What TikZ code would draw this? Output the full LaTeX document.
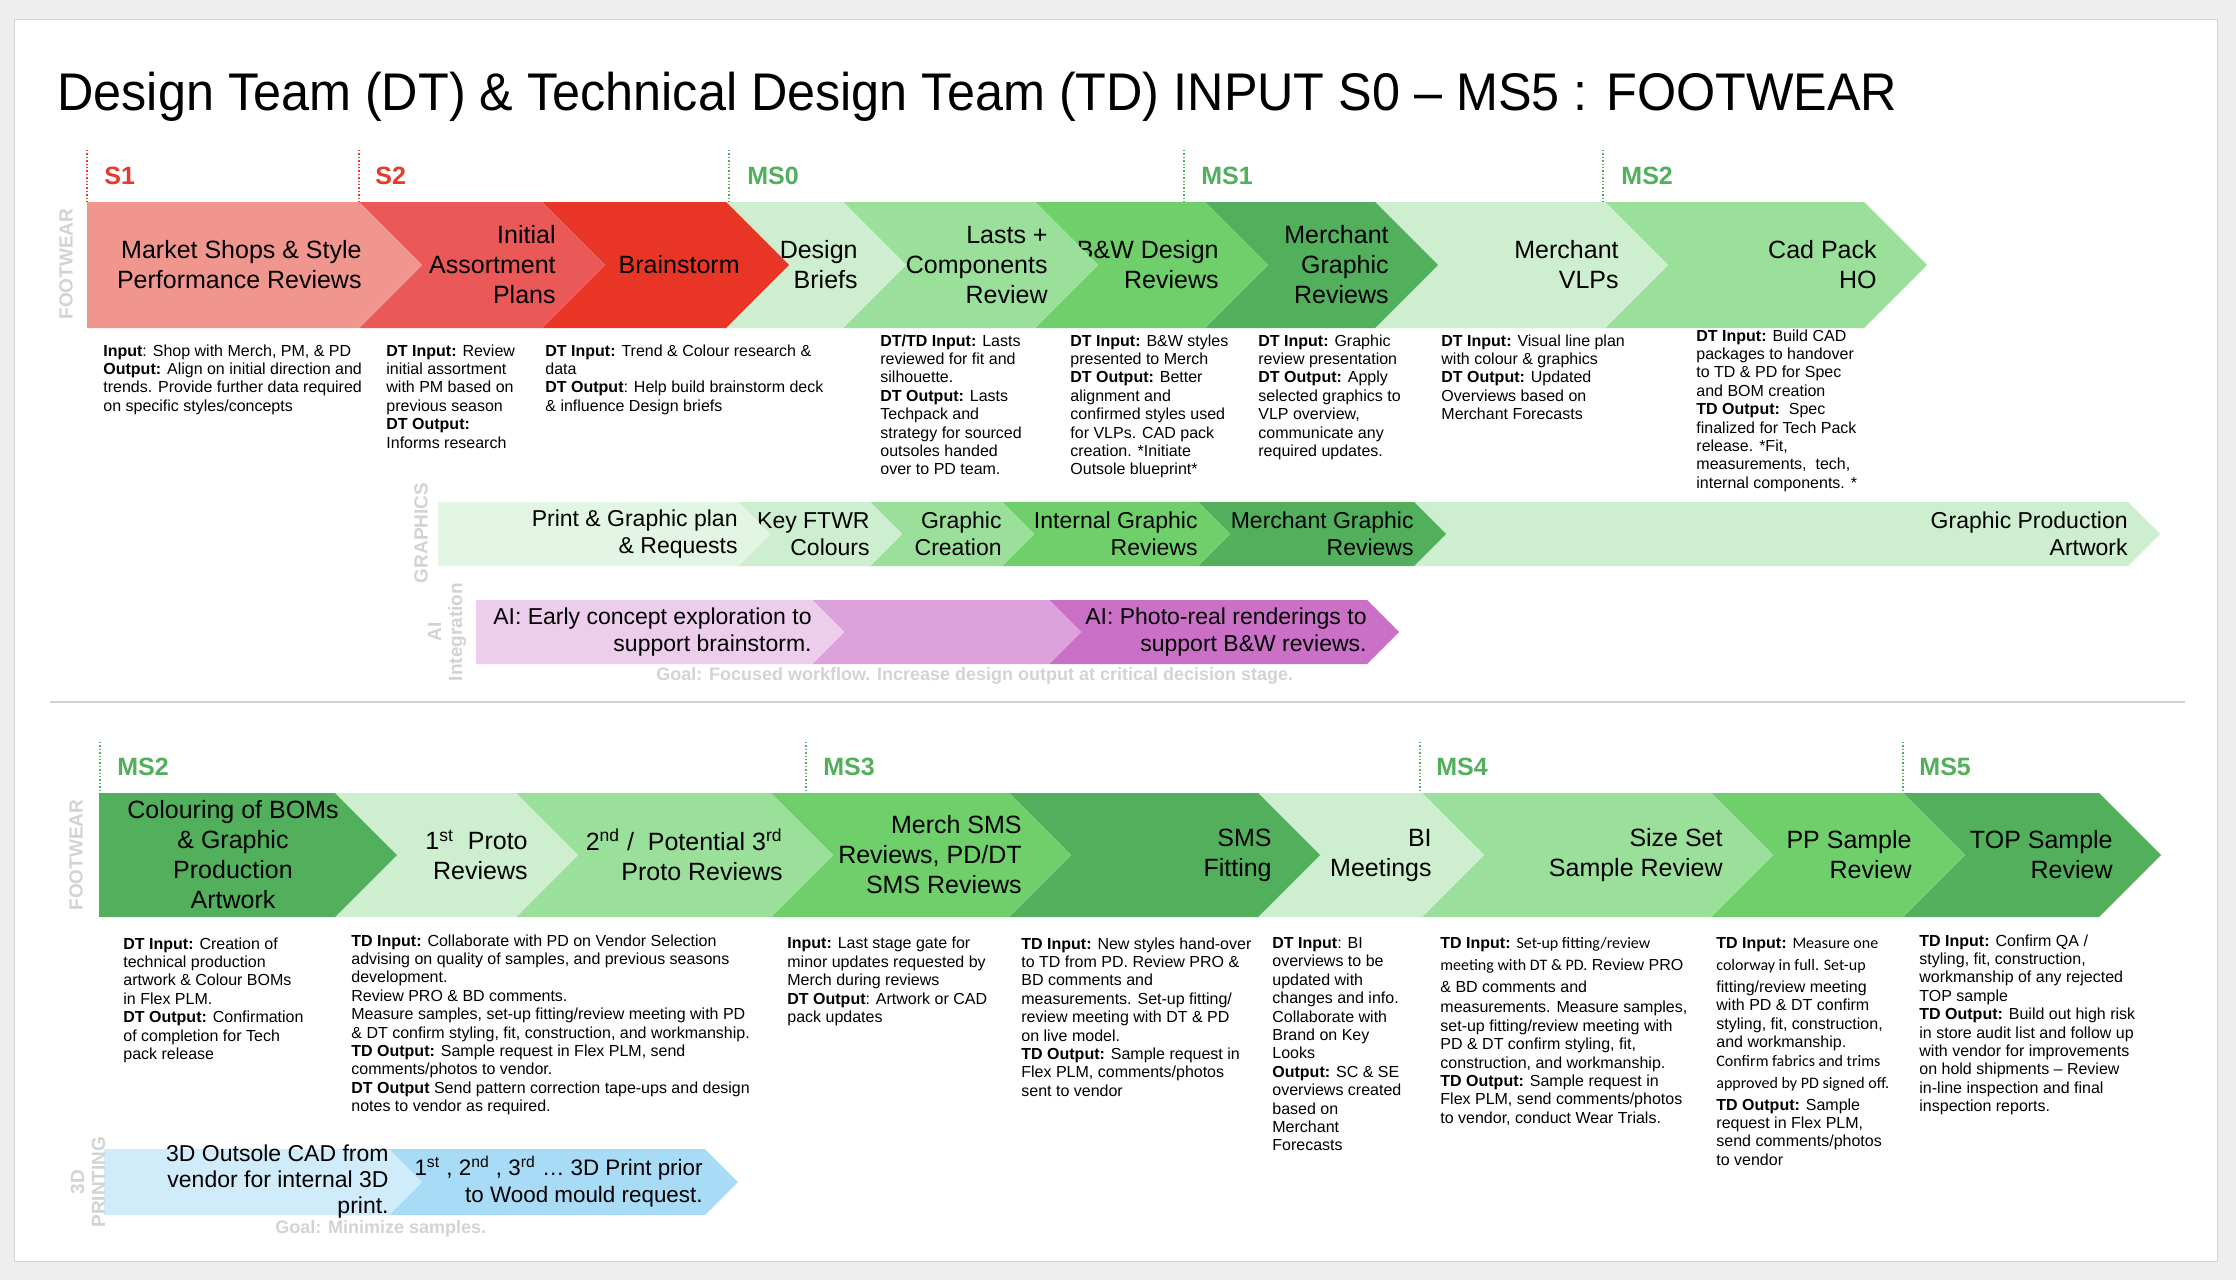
\documentclass[tikz,border=0pt]{standalone}
\usepackage{fontspec}
\setmainfont{Liberation Sans}
\newfontfamily\calfont{Carlito}
\newfontfamily\titlefont[FakeStretch=0.95]{Liberation Sans}
\usetikzlibrary{positioning}
\definecolor{page}     {HTML}{EEEEEE}
\definecolor{rule}     {HTML}{D2D2D2}
\definecolor{lanegray} {HTML}{D3D3D3}
\definecolor{gatered}  {HTML}{E8392B}
\definecolor{gategreen}{HTML}{52AF5C}
\definecolor{shop}     {HTML}{F0968F}
\definecolor{assort}   {HTML}{EA5858}
\definecolor{storm}    {HTML}{E93525}
\definecolor{pale}     {HTML}{E3F5E4}
\definecolor{mint}     {HTML}{CDEFCF}
\definecolor{leaf}     {HTML}{9BE09A}
\definecolor{grass}    {HTML}{6FCF6A}
\definecolor{forest}   {HTML}{52AF5C}
\definecolor{lilac}    {HTML}{ECCDEB}
\definecolor{orchid}   {HTML}{DCA0DB}
\definecolor{plum}     {HTML}{CB70C7}
\definecolor{sky}      {HTML}{D0ECFA}
\definecolor{azure}    {HTML}{A8DBF5}
% chevron: left x, right x, middle y, half height, colour
\newcommand{\chev}[5]{\fill[#5] ({#1},{#3-#4}) -- ({#2},{#3-#4}) -- ({#2+#4},{#3}) -- ({#2},{#3+#4}) -- ({#1},{#3+#4}) -- ({#1+#4},{#3}) -- cycle;}
\newcommand{\chevflat}[5]{\fill[#5] ({#1},{#3-#4}) -- ({#2},{#3-#4}) -- ({#2+#4},{#3}) -- ({#2},{#3+#4}) -- ({#1},{#3+#4}) -- cycle;}

\begin{document}
\begin{tikzpicture}[x=0.5pt, y=-0.5pt,
    stagetext/.style={font=\fontsize{12.5}{15}\selectfont, align=right, anchor=east, inner sep=0pt},
    lanetext/.style={font=\fontsize{11.5}{13.5}\selectfont, align=right, anchor=east, inner sep=0pt},
    desc/.style={font=\fontsize{8}{9.2}\selectfont, align=left, anchor=north west, inner sep=0pt},
    lane/.style={font=\bfseries\fontsize{9.5}{10.5}\selectfont, text=lanegray, rotate=90, align=center, inner sep=0pt},
    gate/.style={font=\bfseries\fontsize{12.5}{13}\selectfont, anchor=west, inner sep=0pt},
    gateline/.style={densely dotted, line width=0.7pt},
    goal/.style={font=\bfseries\fontsize{9}{10}\selectfont, text=lanegray, anchor=west, inner sep=0pt}]
  \useasboundingbox (0,0) rectangle (2236,1280);
  \fill[page] (0,0) rectangle (2236,1280);
  \filldraw[fill=white, draw=rule, line width=0.5pt] (14,19) rectangle (2217,1261);

  \node[anchor=base west, inner sep=0pt, font=\titlefont\fontsize{26.5}{32}\selectfont] (title) at (57,110)
    {Design Team (DT) \& Technical Design Team (TD) INPUT S0 – MS5 : FOOTWEAR};

  % gates, upper half
  \draw[gateline, gatered] (87,150) -- (87,202);
  \draw[gateline, gatered] (359,150) -- (359,202);
  \draw[gateline, gategreen] (729,150) -- (729,202);
  \draw[gateline, gategreen] (1184,150) -- (1184,202);
  \draw[gateline, gategreen] (1603,150) -- (1603,202);
  \node[gate, text=gatered] (s1) at (104,176) {S1};
  \node[gate, text=gatered] (s2) at (375,176) {S2};
  \node[gate, text=gategreen] (ms0) at (747,176) {MS0};
  \node[gate, text=gategreen] (ms1) at (1201,176) {MS1};
  \node[gate, text=gategreen] (ms2a) at (1621,176) {MS2};

  % footwear lane, upper
  \chev{1605}{1864}{265}{63}{leaf}
  \node[stagetext] (cadho) at (1877,265) {Cad Pack\\HO};
  \chev{1375}{1605}{265}{63}{mint}
  \node[stagetext] (vlp) at (1619,265) {Merchant\\VLPs};
  \chev{1205}{1375}{265}{63}{forest}
  \node[stagetext] (mgraph) at (1389,265) {Merchant\\Graphic\\Reviews};
  \chev{1035}{1205}{265}{63}{grass}
  \node[stagetext] (bw) at (1219,265) {B\&W Design\\Reviews};
  \chev{843}{1035}{265}{63}{leaf}
  \node[stagetext] (lasts) at (1048,265) {Lasts +\\Components\\Review};
  \chev{726}{843}{265}{63}{mint}
  \node[stagetext] (briefs) at (858,265) {Design\\Briefs};
  \chev{542}{726}{265}{63}{storm}
  \node[stagetext] (brainstorm) at (740,265) {Brainstorm};
  \chev{359}{542}{265}{63}{assort}
  \node[stagetext] (plans) at (556,265) {Initial\\Assortment\\Plans};
  \chevflat{87}{359}{265}{63}{shop}
  \node[stagetext] (shops) at (362,265) {Market Shops \& Style\\Performance Reviews};
  \node[lane] (lane-fw) at (66,264) {FOOTWEAR};

  \node[desc] (d-shops) at (103,344) {\textbf{Input}: Shop with Merch, PM, \& PD\\\textbf{Output:} Align on initial direction and\\trends. Provide further data required\\on specific styles/concepts};
  \node[desc] (d-plans) at (386,344) {\textbf{DT Input:} Review\\initial assortment\\with PM based on\\previous season\\\textbf{DT Output:}\\Informs research};
  \node[desc] (d-storm) at (545,344) {\textbf{DT Input:} Trend \& Colour research \&\\data\\\textbf{DT Output}: Help build brainstorm deck\\\& influence Design briefs};
  \node[desc] (d-lasts) at (880,334) {\textbf{DT/TD Input:} Lasts\\reviewed for fit and\\silhouette.\\\textbf{DT Output:} Lasts\\Techpack and\\strategy for sourced\\outsoles handed\\over to PD team.};
  \node[desc] (d-bw) at (1070,334) {\textbf{DT Input:} B\&W styles\\presented to Merch\\\textbf{DT Output:} Better\\alignment and\\confirmed styles used\\for VLPs. CAD pack\\creation. *Initiate\\Outsole blueprint*};
  \node[desc] (d-mgraph) at (1258,334) {\textbf{DT Input:} Graphic\\review presentation\\\textbf{DT Output:} Apply\\selected graphics to\\VLP overview,\\communicate any\\required updates.};
  \node[desc] (d-vlp) at (1441,334) {\textbf{DT Input:} Visual line plan\\with colour \& graphics\\\textbf{DT Output:} Updated\\Overviews based on\\Merchant Forecasts};
  \node[desc] (d-cadho) at (1696,329) {\textbf{DT Input:} Build CAD\\packages to handover\\to TD \& PD for Spec\\and BOM creation\\\textbf{TD Output:}\ \ Spec\\finalized for Tech Pack\\release. *Fit,\\measurements,\ \ tech,\\internal components. *};

  % graphics lane
  \chev{1414}{2128}{534}{32}{mint}
  \node[lanetext] (gprod) at (2128,534) {Graphic Production\\Artwork};
  \chev{1198}{1414}{534}{32}{forest}
  \node[lanetext] (gmerch) at (1414,534) {Merchant Graphic\\Reviews};
  \chev{1002}{1198}{534}{32}{grass}
  \node[lanetext] (ginternal) at (1198,534) {Internal Graphic\\Reviews};
  \chev{870}{1002}{534}{32}{leaf}
  \node[lanetext] (gcreate) at (1002,534) {Graphic\\Creation};
  \chev{738}{870}{534}{32}{mint}
  \node[lanetext] (gkey) at (870,534) {Key FTWR\\Colours};
  \chevflat{438}{738}{534}{32}{pale}
  \node[lanetext] (gplan) at (738,534) {Print \& Graphic plan\\\& Requests};
  \node[lane] (lane-gr) at (421,533) {GRAPHICS};

  % AI lane
  \chev{1049}{1367}{632}{32}{plum}
  \node[lanetext] (aiphoto) at (1367,632) {AI: Photo-real renderings to\\support B\&W reviews.};
  \chev{812}{1049}{632}{32}{orchid}
  \chevflat{476}{812}{632}{32}{lilac}
  \node[lanetext] (aiearly) at (812,632) {AI: Early concept exploration to\\support brainstorm.};
  \node[lane] (lane-ai) at (447,632) {AI\\Integration};
  \node[goal] (goal-top) at (656,676) {Goal: Focused workflow. Increase design output at critical decision stage.};

  \draw[rule, line width=1pt] (50,702) -- (2185,702);

  % gates, lower half
  \draw[gateline, gategreen] (100,742) -- (100,793);
  \draw[gateline, gategreen] (806,742) -- (806,793);
  \draw[gateline, gategreen] (1420,742) -- (1420,793);
  \draw[gateline, gategreen] (1903,742) -- (1903,793);
  \node[gate, text=gategreen] (ms2b) at (117,767) {MS2};
  \node[gate, text=gategreen] (ms3) at (823,767) {MS3};
  \node[gate, text=gategreen] (ms4) at (1436,767) {MS4};
  \node[gate, text=gategreen] (ms5) at (1919,767) {MS5};

  % footwear lane, lower
  \chev{1903}{2099}{855}{62}{forest}
  \node[stagetext] (topsample) at (2113,855) {TOP Sample\\Review};
  \chev{1711}{1903}{855}{62}{grass}
  \node[stagetext] (ppsample) at (1912,855) {PP Sample\\Review};
  \chev{1422}{1711}{855}{62}{leaf}
  \node[stagetext] (sizeset) at (1723,855) {Size Set\\Sample Review};
  \chev{1258}{1422}{855}{62}{mint}
  \node[stagetext] (bimeet) at (1432,855) {BI\\Meetings};
  \chev{1009}{1258}{855}{62}{forest}
  \node[stagetext] (smsfit) at (1272,855) {SMS\\Fitting};
  \chev{771}{1009}{855}{62}{grass}
  \node[stagetext] (smsrev) at (1022,855) {Merch SMS\\Reviews, PD/DT\\SMS Reviews};
  \chev{516}{771}{855}{62}{leaf}
  \node[stagetext] (proto2) at (783,855) {2\textsuperscript{nd} /\ \ Potential 3\textsuperscript{rd}\\Proto Reviews};
  \chev{335}{516}{855}{62}{mint}
  \node[stagetext] (proto1) at (528,855) {1\textsuperscript{st}\ \ Proto\\Reviews};
  \chevflat{99}{335}{855}{62}{forest}
  \node[stagetext, align=center, anchor=center] (boms) at (233,855) {Colouring of BOMs\\\& Graphic\\Production\\Artwork};
  \node[lane] (lane-fw2) at (76,855) {FOOTWEAR};

  \node[desc] (d-boms) at (123,937) {\textbf{DT Input:} Creation of\\technical production\\artwork \& Colour BOMs\\in Flex PLM.\\\textbf{DT Output:} Confirmation\\of completion for Tech\\pack release};
  \node[desc] (d-proto) at (351,934) {\textbf{TD Input:} Collaborate with PD on Vendor Selection\\advising on quality of samples, and previous seasons\\development.\\Review PRO \& BD comments.\\Measure samples, set-up fitting/review meeting with PD\\\& DT confirm styling, fit, construction, and workmanship.\\\textbf{TD Output:} Sample request in Flex PLM, send\\comments/photos to vendor.\\\textbf{DT Output} Send pattern correction tape-ups and design\\notes to vendor as required.};
  \node[desc] (d-smsrev) at (787,937) {\textbf{Input:} Last stage gate for\\minor updates requested by\\Merch during reviews\\\textbf{DT Output}: Artwork or CAD\\pack updates};
  \node[desc] (d-smsfit) at (1021,937) {\textbf{TD Input:} New styles hand-over\\to TD from PD. Review PRO \&\\BD comments and\\measurements. Set-up fitting/\\review meeting with DT \& PD\\on live model.\\\textbf{TD Output:} Sample request in\\Flex PLM, comments/photos\\sent to vendor};
  \node[desc] (d-bimeet) at (1272,937) {\textbf{DT Input}: BI\\overviews to be\\updated with\\changes and info.\\Collaborate with\\Brand on Key\\Looks\\\textbf{Output:} SC \& SE\\overviews created\\based on\\Merchant\\Forecasts};
  \node[desc] (d-sizeset) at (1440,937) {\textbf{TD Input:} {\calfont Set-up fitting/review}\\[1.8pt]{\calfont meeting with DT \& PD.} Review PRO\\[1.8pt]\& BD comments and\\[1pt]measurements. Measure samples,\\set-up fitting/review meeting with\\PD \& DT confirm styling, fit,\\construction, and workmanship.\\\textbf{TD Output:} Sample request in\\Flex PLM, send comments/photos\\to vendor, conduct Wear Trials.};
  \node[desc] (d-ppsample) at (1716,937) {\textbf{TD Input:} {\calfont Measure one}\\[1.8pt]{\calfont colorway in full. Set-up}\\[1.8pt]fitting/review meeting\\with PD \& DT confirm\\styling, fit, construction,\\and workmanship.\\{\calfont Confirm fabrics and trims}\\[1.8pt]{\calfont approved by PD signed off.}\\[1.8pt]\textbf{TD Output:} Sample\\request in Flex PLM,\\send comments/photos\\to vendor};
  \node[desc] (d-topsample) at (1919,934) {\textbf{TD Input:} Confirm QA /\\styling, fit, construction,\\workmanship of any rejected\\TOP sample\\\textbf{TD Output:} Build out high risk\\in store audit list and follow up\\with vendor for improvements\\on hold shipments – Review\\in-line inspection and final\\inspection reports.};

  % 3D printing lane
  \chev{389}{705}{1182}{33}{azure}
  \node[lanetext, font=\fontsize{11.2}{13.5}\selectfont] (print3d) at (703,1182) {1\textsuperscript{st} , 2\textsuperscript{nd} , 3\textsuperscript{rd} … 3D Print prior\\to Wood mould request.};
  \chevflat{104}{389}{1182}{33}{sky}
  \node[lanetext, font=\fontsize{11.5}{13}\selectfont] (cad3d) at (389,1182) {3D Outsole CAD from\\vendor for internal 3D\\print.};
  \node[lane] (lane-3d) at (88,1182) {3D\\PRINTING};
  \node[goal] (goal-3d) at (275,1229) {Goal: Minimize samples.};
\end{tikzpicture}
\end{document}
